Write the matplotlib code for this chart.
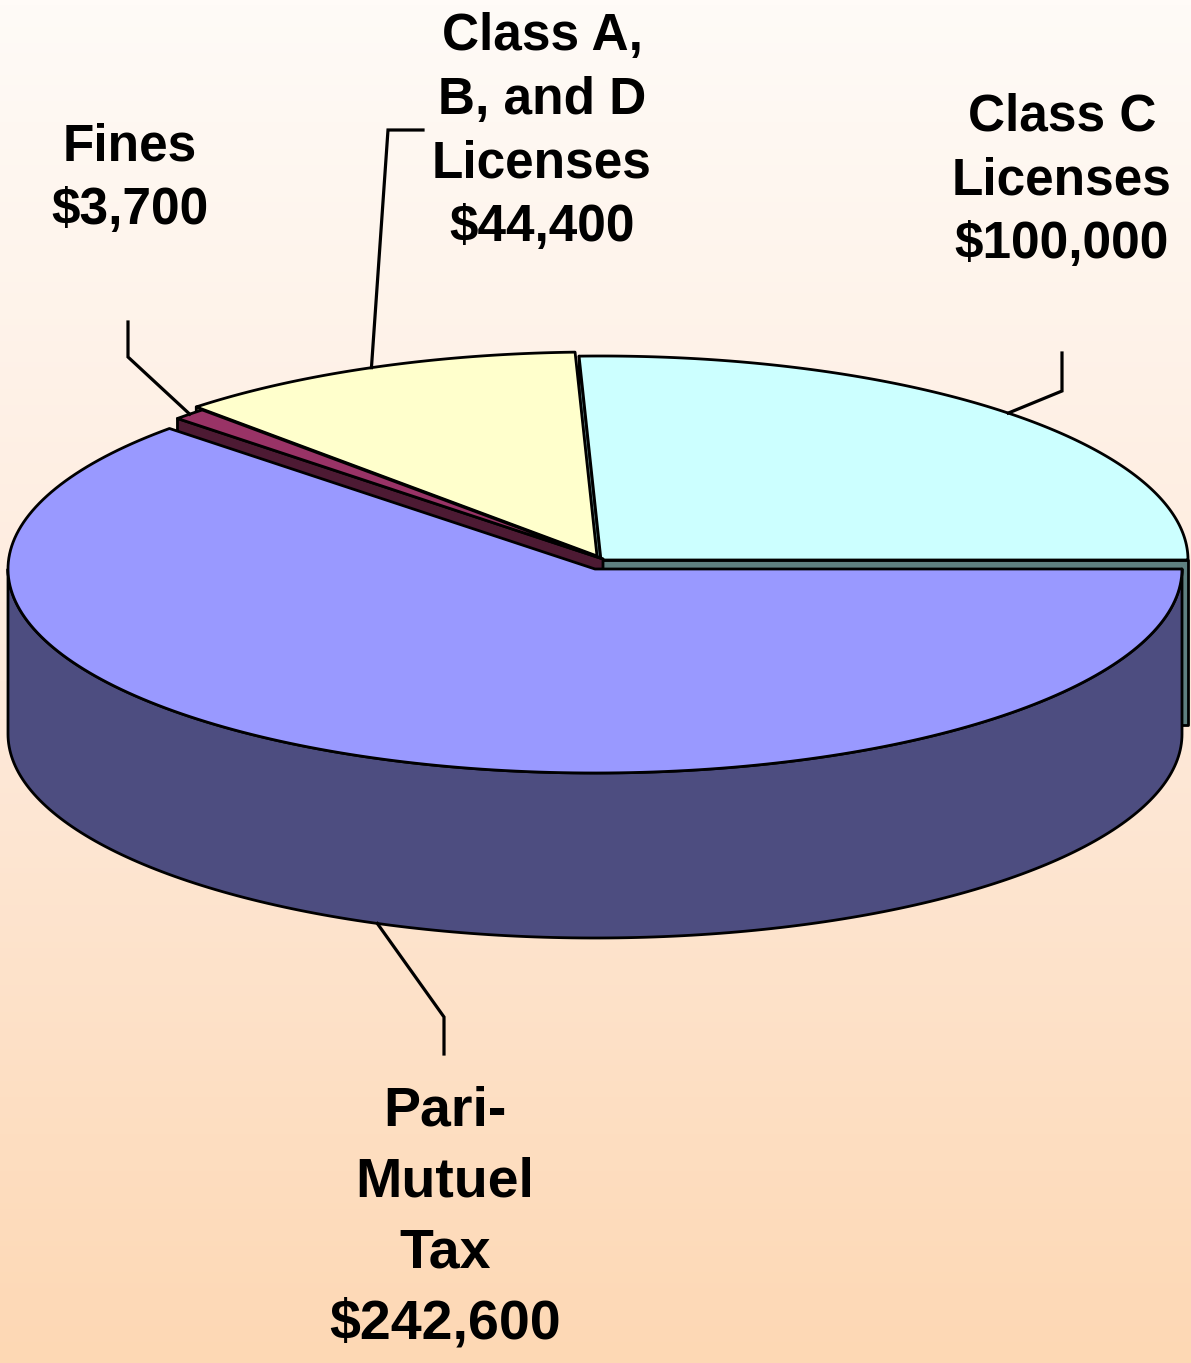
import numpy as np
import matplotlib.pyplot as plt
from matplotlib.patches import Polygon
from matplotlib.colors import LinearSegmentedColormap

# slices counter-clockwise from 3 o'clock
categories = ['Class C\nLicenses', 'Class A,\nB, and D\nLicenses', 'Fines', 'Pari-\nMutuel\nTax']
values = [100000, 44400, 3700, 242600]
top_colors = ['#CCFFFF', '#FFFFCC', '#993366', '#9999FF']
side_colors = ['#5F8080', '#80806A', '#4D1A33', '#4D4D80']

# layout (pixels)
cx, cy = 595, 569
rx, ry = 587, 204
depth = 165
offsets = [(6, -9), (2, -13), (8, -10), (0, 0)]
label_xy = [(1062, 181), (542, 132), (130, 179), (445, 1218)]
label_size = [37, 37, 37, 40]
label_spacing = [1.39, 1.39, 1.39, 1.48]
elbows = [[(1062, 391), (1062, 353)],
          [(388, 130), (423, 130)],
          [(128, 357), (128, 322)],
          [(444, 1017), (444, 1054)]]

W, H = 1191, 1363
fig = plt.figure(figsize=(W / 100, H / 100), dpi=100)
ax = fig.add_axes([0, 0, 1, 1])
ax.set_xlim(0, W)
ax.set_ylim(H, 0)
ax.axis('off')

cmap = LinearSegmentedColormap.from_list('bg', ['#FFFBF7', '#FEEADB', '#FDD8B4'])
ax.imshow(np.linspace(0, 1, 256).reshape(-1, 1), extent=(0, W, H, 0),
          cmap=cmap, aspect='auto', zorder=0)


def pt(t, ox, oy, dz=0):
    r = np.radians(t)
    return (cx + ox + rx * np.cos(r), cy + oy - ry * np.sin(r) + dz)


def arc(a, b, ox, oy, dz=0, n=200):
    return [pt(t, ox, oy, dz) for t in np.linspace(a, b, n)]


edge = dict(edgecolor='black', linewidth=2.0, joinstyle='round')
bounds = np.concatenate([[0], np.cumsum(values)]) / sum(values) * 360
z = 1
for i in range(len(values)):
    t1, t2 = bounds[i], bounds[i + 1]
    ox, oy = offsets[i]
    c_top = (cx + ox, cy + oy)
    c_bot = (cx + ox, cy + oy + depth)
    # radial faces facing the viewer
    for t, front in [(t1, np.cos(np.radians(t1)) > 0), (t2, np.cos(np.radians(t2)) < 0)]:
        if front:
            poly = [c_top, pt(t, ox, oy), pt(t, ox, oy, depth), c_bot]
            ax.add_patch(Polygon(poly, facecolor=side_colors[i], zorder=z, **edge))
            z += 1
    # outer wall, front half only
    a, b = max(t1, 180), min(t2, 360)
    if b > a:
        poly = arc(a, b, ox, oy) + arc(b, a, ox, oy, depth)
        ax.add_patch(Polygon(poly, facecolor=side_colors[i], zorder=z, **edge))
        z += 1
    poly = [c_top] + arc(t1, t2, ox, oy)
    ax.add_patch(Polygon(poly, facecolor=top_colors[i], zorder=z, **edge))
    z += 1

for i in range(len(values)):
    mid = (bounds[i] + bounds[i + 1]) / 2
    ox, oy = offsets[i]
    dz = depth if np.sin(np.radians(mid)) < 0 else 0
    anchor = pt(mid, ox, oy, dz)
    xs, ys = zip(*([anchor] + elbows[i]))
    ax.plot(xs, ys, color='black', lw=2.3, solid_joinstyle='miter', zorder=z)
    ax.text(label_xy[i][0], label_xy[i][1],
            categories[i] + '\n${:,}'.format(values[i]),
            ha='center', va='center', multialignment='center',
            fontsize=label_size[i], fontweight='bold',
            family='Liberation Sans', linespacing=label_spacing[i], zorder=z)

fig.savefig('out.png', dpi=100)
